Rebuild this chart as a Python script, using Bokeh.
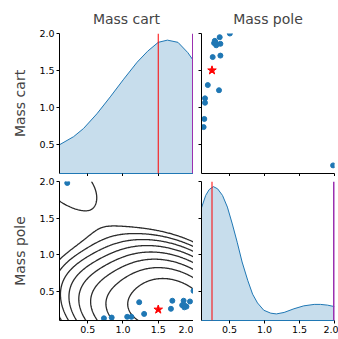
import numpy as np
from bokeh.plotting import figure
from bokeh.layouts import gridplot
from bokeh.models import Range1d, FixedTicker, Span, PrintfTickFormatter
from bokeh.embed import file_html
from bokeh.resources import INLINE

# ---------------- data ----------------
param_names = ["Mass cart", "Mass pole"]
true_cart = 1.5
true_pole = 0.25
limit_low = 0.1
limit_high = 2.0
tick_values = [0.5, 1.0, 1.5, 2.0]

cart_samples = [0.21, 0.73, 0.84, 1.06, 1.12, 1.23, 1.30, 1.68, 1.70,
                1.86, 1.84, 1.87, 1.90, 1.88, 1.95, 2.00]
pole_samples = [1.98, 0.13, 0.14, 0.15, 0.15, 0.35, 0.19, 0.26, 0.37,
                0.37, 0.31, 0.28, 0.29, 0.30, 0.36, 0.505]

# 1-D marginal density curves (in panel units)
cart_kde_x = [0.10, 0.30, 0.44, 0.63, 0.82, 1.01, 1.20, 1.35, 1.50, 1.63, 1.78, 1.92, 2.00]
cart_kde_y = [0.49, 0.60, 0.71, 0.91, 1.14, 1.38, 1.61, 1.76, 1.88, 1.91, 1.88, 1.74, 1.63]

pole_kde_x = [0.10, 0.16, 0.21, 0.27, 0.33, 0.40, 0.47, 0.54, 0.61, 0.68, 0.76, 0.83,
              0.90, 0.99, 1.09, 1.17, 1.28, 1.42, 1.56, 1.71, 1.80, 1.90, 2.00]
pole_kde_y = [1.64, 1.81, 1.89, 1.93, 1.90, 1.81, 1.65, 1.42, 1.17, 0.90, 0.65, 0.46,
              0.34, 0.24, 0.20, 0.19, 0.21, 0.26, 0.30, 0.32, 0.32, 0.31, 0.29]

# ---------------- styles ----------------
BLUE = "#1f77b4"
FILL = "#1f77b4"
PURPLE = "#9b30b0"
RED = "#ff0000"
FONT = "DejaVu Sans"

frame_w = [134, 133]
frame_h = [140, 139]
border_left = [59, 8]
border_right = [0, 4]
border_top = [33, 5]
border_bottom = [3, 19]


def make_fig(row, col, xlabel_visible, ylabel_visible):
    p = figure(frame_width=frame_w[col], frame_height=frame_h[row],
               x_range=Range1d(limit_low, limit_high),
               y_range=Range1d(limit_low, limit_high),
               output_backend="svg", toolbar_location=None,
               min_border_left=border_left[col], min_border_right=border_right[col],
               min_border_top=border_top[row], min_border_bottom=border_bottom[row])
    p.grid.visible = False
    p.outline_line_color = None
    p.background_fill_color = "white"
    p.border_fill_color = "white"
    for ax, show in ((p.xaxis[0], xlabel_visible), (p.yaxis[0], ylabel_visible)):
        ax.ticker = FixedTicker(ticks=tick_values)
        ax.formatter = PrintfTickFormatter(format="%.1f")
        ax.axis_line_color = "black"
        ax.axis_line_width = 1
        ax.major_tick_in = 0
        ax.major_tick_out = 3
        ax.major_tick_line_color = "black"
        ax.minor_tick_line_color = None
        ax.major_label_text_font = FONT
        ax.major_label_text_font_size = "9.5px"
        if show:
            ax.major_label_text_color = "black"
            ax.major_label_standoff = 2
        else:
            ax.major_label_text_color = None
            ax.major_label_standoff = 0
        ax.axis_label_text_font = FONT
        ax.axis_label_text_font_size = "14px"
        ax.axis_label_text_font_style = "normal"
    return p


# top-left: marginal of Mass cart
p_tl = make_fig(0, 0, False, True)
p_tl.varea(x=cart_kde_x, y1=limit_low - 0.5, y2=cart_kde_y, fill_color=FILL, fill_alpha=0.25)
p_tl.line(cart_kde_x, cart_kde_y, line_color=BLUE, line_width=1)
p_tl.add_layout(Span(location=true_cart, dimension="height", line_color=RED, line_width=1))
p_tl.add_layout(Span(location=limit_high, dimension="height", line_color=PURPLE, line_width=3))
p_tl.xaxis[0].axis_line_color = BLUE
p_tl.yaxis[0].axis_label = param_names[0]
p_tl.yaxis[0].axis_label_standoff = 8
p_tl.title.text = param_names[0]

# top-right: Mass pole (x) vs Mass cart (y)
p_tr = make_fig(0, 1, False, False)
p_tr.scatter(pole_samples, cart_samples, size=5, color=BLUE)
p_tr.scatter([true_pole], [true_cart], marker="star", size=9, color=RED)
p_tr.title.text = param_names[1]

# bottom-left: contour of density estimated from the samples
p_bl = make_fig(1, 0, True, True)
data = np.vstack([cart_samples, pole_samples])
n = data.shape[1]
bw_factor = 1.0
cov = np.cov(data) * bw_factor ** 2
inv = np.linalg.inv(cov)
norm = n * 2 * np.pi * np.sqrt(np.linalg.det(cov))
gx = np.linspace(limit_low, limit_high, 150)
gy = np.linspace(limit_low, limit_high, 150)
GX, GY = np.meshgrid(gx, gy)
Z = np.zeros_like(GX)
for cx, cy in zip(cart_samples, pole_samples):
    dx = GX - cx
    dy = GY - cy
    q = inv[0, 0] * dx * dx + 2 * inv[0, 1] * dx * dy + inv[1, 1] * dy * dy
    Z += np.exp(-0.5 * q)
Z /= norm

levels = list(Z.max() * np.geomspace(0.075, 0.72, 8))
p_bl.contour(x=gx, y=gy, z=Z, levels=levels, line_color="#2b2b2b", line_width=1.3)
p_bl.scatter(cart_samples, pole_samples, size=5, color=BLUE)
p_bl.scatter([true_cart], [true_pole], marker="star", size=9, color=RED)
p_bl.yaxis[0].axis_label = param_names[1]
p_bl.yaxis[0].axis_label_standoff = 8

# bottom-right: marginal of Mass pole
p_br = make_fig(1, 1, True, False)
p_br.varea(x=pole_kde_x, y1=limit_low - 0.5, y2=pole_kde_y, fill_color=FILL, fill_alpha=0.25)
p_br.line(pole_kde_x, pole_kde_y, line_color=BLUE, line_width=1)
p_br.add_layout(Span(location=true_pole, dimension="height", line_color=RED, line_width=1))
p_br.add_layout(Span(location=limit_high, dimension="height", line_color=PURPLE, line_width=3))
p_br.xaxis[0].axis_line_color = BLUE

for p in (p_tl, p_tr):
    p.title.align = "center"
    p.title.vertical_align = "top"
    p.title.text_font = FONT
    p.title.text_font_size = "14px"
    p.title.text_font_style = "normal"
    p.title.standoff = 10

grid = gridplot([[p_tl, p_tr], [p_bl, p_br]], toolbar_location=None)

open("out.html", "w").write(file_html(grid, INLINE))
